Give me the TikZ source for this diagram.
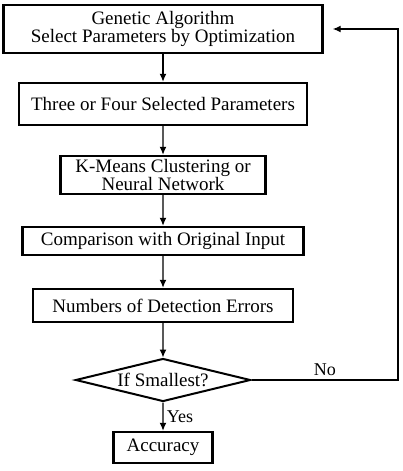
\documentclass[tikz,border=0pt]{standalone}
\usepackage{fontspec}
\setmainfont{Liberation Serif}
\usetikzlibrary{shapes.geometric,arrows.meta}
\begin{document}
\begin{tikzpicture}[
      x=1pt, y=1pt,
      box/.style={draw=black,line width=2.4pt,align=center,inner sep=1pt,font=\fontsize{19}{18.5}\selectfont},
      test/.style={box,diamond,line width=2pt,aspect=4},
      answer/.style={font=\fontsize{18}{18}\selectfont},
      flow/.style={line width=1.3pt,-{Latex[length=8pt,width=7pt]},draw=black},
      edge from parent/.style={flow},
      level 1/.style={level distance=75pt},
      level 2/.style={level distance=71pt},
      level 3/.style={level distance=66pt},
      level 4/.style={level distance=64.5pt},
      level 5/.style={level distance=74.5pt},
      level 6/.style={level distance=67.5pt},
      ]
      \useasboundingbox (0,0) rectangle (403,-471);
      \node[box,minimum width=319pt,minimum height=48pt] (ga) at (163,-29) {Genetic Algorithm\\Select Parameters by Optimization}
        child { node[box,minimum width=288pt,minimum height=42pt] (sel) {Three or Four Selected Parameters}
          child { node[box,minimum width=205pt,minimum height=38pt] (km) {K-Means Clustering or\\Neural Network}
            child { node[box,minimum width=281pt,minimum height=28pt] (cmp) {Comparison with Original Input}
              child { node[box,minimum width=260pt,minimum height=33pt] (err) {Numbers of Detection Errors}
                child { node[test,minimum width=175pt,minimum height=43pt] (small) {If Smallest?}
                  child { node[box,minimum width=99pt,minimum height=31pt] (acc) {Accuracy}
                    edge from parent node[right,answer] {Yes}
                  }
                }
              }
            }
          }
        }
      ;
      % loop back when not the smallest
      \coordinate (back) at (398,-29);
      \draw[flow,shorten >=9pt] (small.east) -| (back) node[pos=0.25,above,answer] {No} -- (ga.east);
    \end{tikzpicture}
\end{document}
